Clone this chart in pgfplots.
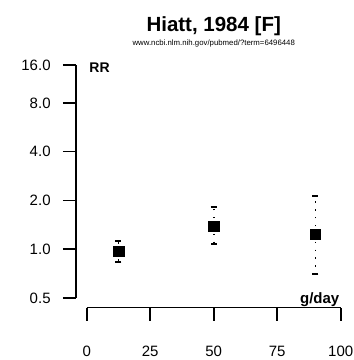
\documentclass[border=0pt]{standalone}
\usepackage{pgfplots}
\usepackage{pgfplotstable}
\pgfplotsset{compat=1.18}
\usepackage{fontspec}
\setmainfont{Liberation Sans}

\pgfplotstableread{
x    rr    up    lo
12.5 0.97  0.15  0.14
50   1.39  0.43  0.32
90   1.24  0.90  0.54
}\hiatt

\begin{document}
\begin{tikzpicture}
% page = 354 x 360 px, axis box south west at (75.8, 307.6)
\path[use as bounding box] (-75.8pt,-52.4pt) rectangle (278.2pt,307.6pt);
\begin{axis}[
    scale only axis,
    width=275.1pt, height=252.6pt,
    xmin=-4.3, xmax=104,
    ymode=log, log basis y=2,
    ymin=0.436, ymax=15.8,
    axis x line*=bottom, axis y line*=left,
    axis line style={draw=none},
    clip=false,
    tick align=outside,
    major tick length=13pt,
    tick style={line width=1.6pt, black},
    xtick={0,25,50,75,100},
    ytick={0.5,1,2,4,8,13.7},
    yticklabels={0.5,1.0,2.0,4.0,8.0,16.0},
    tick label style={font=\fontsize{15}{17}\selectfont, inner sep=0pt},
    /pgf/number format/assume math mode=true,
    yticklabel shift=12pt,
    xticklabel shift=25pt,
]
\draw[line width=1.6pt] (axis cs:-4.3,0.5) -- (axis cs:-4.3,13.7);
\draw[line width=1.6pt] (axis cs:0,0.436) -- (axis cs:100,0.436);

\addplot[only marks, mark=square*, mark size=5.3pt, black,
    error bars/.cd, y dir=both, y explicit,
    error bar style={line width=1.6pt, dash pattern=on 1.6pt off 6.2pt},
    error mark options={solid, line width=2pt, mark size=3pt, rotate=90}]
  table[x=x, y=rr, y error plus=up, y error minus=lo] {\hiatt};

\node[anchor=north west, inner sep=0pt, font=\bfseries\fontsize{14}{16}\selectfont]
  at (axis cs:1,14.1) {RR};
\node[anchor=base east, inner sep=0pt, font=\bfseries\fontsize{15}{17}\selectfont]
  at (axis cs:99.5,0.46) {g/day};
\node[anchor=base, inner sep=0pt, font=\bfseries\fontsize{20.5}{22}\selectfont]
  at (axis cs:50,15.8) [yshift=24pt] {Hiatt, 1984 [F]};
\node[anchor=base, inner sep=0pt, font=\fontsize{7.8}{9}\selectfont]
  at (axis cs:50,15.8) [yshift=10pt] {www.ncbi.nlm.nih.gov/pubmed/?term=6496448};
\end{axis}
\end{tikzpicture}
\end{document}
